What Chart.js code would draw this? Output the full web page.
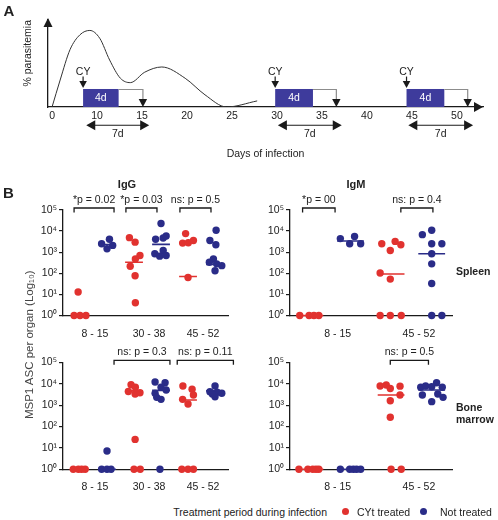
<!DOCTYPE html>
<html>
<head>
<meta charset="utf-8">
<title>CY treatment schedule and MSP1 ASC</title>
<script src="https://cdn.jsdelivr.net/npm/chart.js@4.4.1/dist/chart.umd.min.js"></script>
<style>
  html, body { margin: 0; padding: 0; background: #fff; }
  body { position: relative; width: 498px; height: 520px; overflow: hidden;
         font-family: "Liberation Sans", Arial, sans-serif; color: #222; }
  canvas { position: absolute; }
  .lbl { position: absolute; white-space: nowrap; font-size: 10.5px; line-height: 1; }
  .c { transform: translate(-50%, -50%); }
  .b { font-weight: bold; }
  .dot { position: absolute; width: 7px; height: 7px; border-radius: 50%; }
</style>
</head>
<body>
<canvas id="schedule" width="498" height="170" style="left:0;top:0"></canvas>
<canvas id="iggSpleen" width="250" height="165" style="left:0;top:185px"></canvas>
<canvas id="igmSpleen" width="258" height="165" style="left:240px;top:185px"></canvas>
<canvas id="iggMarrow" width="250" height="165" style="left:0;top:340px"></canvas>
<canvas id="igmMarrow" width="258" height="165" style="left:240px;top:340px"></canvas>

<div class="lbl c b" style="left:9px;top:10px;font-size:15px">A</div>
<div class="lbl c b" style="left:8.5px;top:192px;font-size:15px">B</div>
<div class="lbl c b" style="left:127px;top:184px;font-size:11px">IgG</div>
<div class="lbl c b" style="left:356px;top:184px;font-size:11px">IgM</div>
<div class="lbl b" style="left:456px;top:266px">Spleen</div>
<div class="lbl b" style="left:456px;top:400.5px;line-height:12.6px">Bone<br>marrow</div>
<div class="lbl" style="left:-48px;top:339px;width:156px;text-align:center;font-size:11.5px;font-weight:normal;color:#444;transform:rotate(-90deg)">MSP1 ASC per organ (Log&#8321;&#8320;)</div>
<div class="lbl" style="left:327px;top:511.5px;transform:translate(-100%,-50%)">Treatment period during infection</div>
<div class="dot" style="left:341.5px;top:508px;background:#e1322f"></div>
<div class="lbl" style="left:357px;top:511.5px;transform:translateY(-50%)">CYt treated</div>
<div class="dot" style="left:419.8px;top:508px;background:#2a2c88"></div>
<div class="lbl" style="left:440px;top:511.5px;transform:translateY(-50%)">Not treated</div>

<script>
// ---- panel A: infection schedule ----
var dayTicks = [0, 10, 15, 20, 25, 30, 35, 40, 45, 50];
var curveDays = [0, 1.8, 4, 6.2, 8.4, 10.3, 11.4, 12.6, 13.7, 15.3, 17.2, 19.8, 22, 24.4, 27.8];
var curveLevel = [0, 31, 66, 83, 88, 79, 54, 33, 28, 40, 46, 33, 14, 0, 7];
var cyDays = [6.9, 29.8, 44.4];
var boxEndDays = [12.4, 34, 48.6];
var sampleDays = [15.1, 36.6, 51.2];
var windowStart = [7.6, 30.1, 44.6];
var windowEnd = [15.8, 37.2, 51.8];

// ---- panel B: MSP1 ASC per organ ----
var periodsIgG = ['8 - 15', '30 - 38', '45 - 52'];
var periodsIgM = ['8 - 15', '45 - 52'];

var iggSpleenCy = [[13, 1, 1, 1], [4900, 3000, 700, 480, 215, 76, 4], [7600, 2700, 2800, 3600, 63]];
var iggSpleenCyX = [[-0.07, -0.22, 0, 0.22], [-0.17, 0.04, 0.22, 0.05, -0.14, 0.04, 0.05], [-0.09, -0.2, 0.01, 0.2, 0]];
var iggSpleenNt = [[2500, 4100, 1450, 2100], [23000, 4100, 4700, 5900, 1200, 850, 650, 700], [11000, 3600, 2250, 480, 335, 280, 230, 133]];
var iggSpleenNtX = [[-0.2, 0.09, 0, 0.21], [0, -0.2, 0.08, 0.19, 0.08, -0.23, -0.05, 0.19], [0.04, -0.19, 0.03, -0.06, -0.21, 0.06, 0.25, 0]];
var iggSpleenCyMed = [1, 335, 70];
var iggSpleenNtMed = [2300, 2350, 260];
var iggSpleenTests = ['*p = 0.02', '*p = 0.03', 'ns: p = 0.5'];
var iggSpleenFrom = [-0.22, 1.7, 3.7];
var iggSpleenTo = [1.26, 2.85, 4.85];

var igmSpleenCy = [[1, 1, 1, 1], [2500, 1200, 3250, 2250, 103, 53, 1, 1, 1]];
var igmSpleenCyX = [[-0.25, -0.02, 0.1, 0.22], [-0.23, -0.02, 0.1, 0.24, -0.27, -0.02, -0.27, -0.02, 0.25]];
var igmSpleenNt = [[4400, 5600, 2500, 2500], [6800, 11000, 2500, 2500, 840, 280, 33, 1, 1]];
var igmSpleenNtX = [[-0.25, 0.1, -0.02, 0.25], [-0.23, 0, 0, 0.25, 0, 0, 0, 0, 0.25]];
var igmSpleenCyMed = [1, 92];
var igmSpleenNtMed = [3400, 840];
var igmSpleenTests = ['*p = 00', 'ns: p = 0.4'];
var igmSpleenFrom = [-0.18, 2.24];
var igmSpleenTo = [0.62, 3.03];

var iggMarrowCy = [[1, 1, 1, 1], [8900, 6800, 4300, 3300, 3800, 25, 1, 1], [7800, 5500, 2950, 1860, 1120, 1, 1, 1]];
var iggMarrowCyX = [[-0.25, -0.06, 0.06, 0.19], [-0.11, 0.05, -0.21, 0.04, 0.22, 0.04, 0, 0.23], [-0.19, 0.15, 0.2, -0.2, 0, -0.23, 0, 0.2]];
var iggMarrowNt = [[7.2, 1, 1, 1], [12000, 11000, 6800, 3550, 5100, 2300, 1860, 1], [7800, 4250, 4000, 3600, 2450, 3300]];
var iggMarrowNtX = [[0, -0.2, 0, 0.15], [-0.22, 0.15, 0, -0.22, 0.19, -0.16, 0, -0.04], [0, -0.19, 0.08, 0.25, 0, -0.1]];
var iggMarrowCyMed = [1, 4600, 1740];
var iggMarrowNtMed = [1, 4900, 4600];
var iggMarrowTests = ['ns: p = 0.3', 'ns: p = 0.11'];
var iggMarrowFrom = [1.26, 3.6];
var iggMarrowTo = [3.33, 5.68];

var igmMarrowCy = [[1, 1, 1, 1, 1], [7800, 8700, 6000, 7700, 2950, 1600, 270, 1, 1]];
var igmMarrowCyX = [[-0.27, -0.05, 0.07, 0.15, 0.22], [-0.27, -0.12, -0.02, 0.22, 0.22, -0.02, -0.02, 0, 0.25]];
var igmMarrowNt = [[1, 1, 1, 1, 1], [6800, 7800, 7200, 11000, 6800, 2950, 1450, 3300, 2300]];
var igmMarrowNtX = [[-0.25, -0.02, 0.07, 0.15, 0.25], [-0.27, -0.15, 0, 0.12, 0.26, -0.23, 0, 0.15, 0.28]];
var igmMarrowCyMed = [1, 2950];
var igmMarrowNtMed = [1, 5100];
var igmMarrowTests = ['ns: p = 0.5'];
var igmMarrowFrom = [1.98];
var igmMarrowTo = [2.92];

var RED = '#e1322f';
var BLUE = '#2a2c88';
var INK = '#1a1a1a';
var FONT = '10.5px "Liberation Sans", Arial, sans-serif';
var SUP = ['\u2070', '\u00b9', '\u00b2', '\u00b3', '\u2074', '\u2075'];

Chart.defaults.font.family = '"Liberation Sans", Arial, sans-serif';
Chart.defaults.font.size = 10.5;
Chart.defaults.color = '#222';
Chart.defaults.animation = false;
Chart.defaults.events = [];
Chart.defaults.plugins.legend.display = false;
Chart.defaults.plugins.tooltip.enabled = false;

// the schematic day axis is not linear: each labelled day gets one step
function dayToIdx(d) {
	for (var i = 1; i < dayTicks.length; i++) {
		if (d <= dayTicks[i] || i == dayTicks.length - 1) {
			return i - 1 + (d - dayTicks[i - 1]) / (dayTicks[i] - dayTicks[i - 1]);
		}
	}
}

function head(ctx, x, y, dir, hw, len) {
	ctx.beginPath();
	ctx.moveTo(x, y);
	if (dir == 'up') { ctx.lineTo(x - hw, y + len); ctx.lineTo(x + hw, y + len); }
	else if (dir == 'down') { ctx.lineTo(x - hw, y - len); ctx.lineTo(x + hw, y - len); }
	else if (dir == 'left') { ctx.lineTo(x + len, y - hw); ctx.lineTo(x + len, y + hw); }
	else { ctx.lineTo(x - len, y - hw); ctx.lineTo(x - len, y + hw); }
	ctx.closePath();
	ctx.fill();
}

function seg(ctx, x0, y0, x1, y1) {
	ctx.beginPath();
	ctx.moveTo(x0, y0);
	ctx.lineTo(x1, y1);
	ctx.stroke();
}

var schedulePlugin = {
	id: 'schedule',
	afterDatasetsDraw: function(chart) {
		var ctx = chart.ctx, ca = chart.chartArea, x = chart.scales.x, y = chart.scales.y;
		var px = function(d) { return x.getPixelForValue(dayToIdx(d)); };
		var py = function(v) { return y.getPixelForValue(v); };
		var base = py(0);
		ctx.save();
		ctx.fillStyle = INK;
		head(ctx, ca.left, ca.top - 2, 'up', 4.5, 9);
		head(ctx, ca.right, base, 'right', 5, 9);
		ctx.font = FONT;
		ctx.textAlign = 'center';
		ctx.textBaseline = 'middle';
		ctx.lineWidth = 1.2;
		for (var i = 0; i < cyDays.length; i++) {
			var x0 = px(cyDays[i]), x1 = px(boxEndDays[i]), x2 = px(sampleDays[i]);
			var top = py(20.7);
			// CY injection
			ctx.fillStyle = '#222';
			ctx.fillText('CY', x0, py(40.6));
			ctx.strokeStyle = INK;
			seg(ctx, x0, py(35), x0, top - 5);
			ctx.fillStyle = INK;
			head(ctx, x0, top - 1, 'down', 3.8, 7);
			// 4 days of treatment
			ctx.fillStyle = '#3e3b9c';
			ctx.fillRect(x0, top, x1 - x0, base - top);
			ctx.fillStyle = '#fff';
			ctx.fillText('4d', (x0 + x1) / 2, (top + base) / 2 + 0.5);
			// until sampling
			ctx.strokeStyle = '#8c8c8c';
			ctx.beginPath();
			ctx.moveTo(x1, top + 0.5);
			ctx.lineTo(x2, top + 0.5);
			ctx.lineTo(x2, base - 6);
			ctx.stroke();
			ctx.fillStyle = INK;
			head(ctx, x2, base, 'down', 4.2, 8);
			// 7 day window
			var w0 = px(windowStart[i]), w1 = px(windowEnd[i]), wy = py(-21);
			ctx.strokeStyle = INK;
			seg(ctx, w0 + 6, wy, w1 - 6, wy);
			head(ctx, w0, wy, 'left', 5, 9);
			head(ctx, w1, wy, 'right', 5, 9);
			ctx.fillStyle = '#222';
			ctx.fillText('7d', (w0 + w1) / 2, py(-31.5));
		}
		ctx.restore();
	}
};

new Chart(document.getElementById('schedule'), {
	type: 'line',
	data: {
		datasets: [{
			data: curveDays.map(function(d, i) { return { x: dayToIdx(d), y: curveLevel[i] }; }),
			borderColor: '#333',
			borderWidth: 1,
			pointRadius: 0,
			cubicInterpolationMode: 'monotone',
			fill: false
		}]
	},
	options: {
		responsive: false,
		layout: { padding: { top: 20, right: 15, left: 0, bottom: 0 } },
		scales: {
			x: {
				type: 'linear', min: -0.09, max: 9.58,
				grid: { display: false, drawTicks: false },
				border: { display: true, color: INK, width: 1.3 },
				ticks: { padding: 2.5, autoSkip: false, maxRotation: 0,
					callback: function(v) { return dayTicks[Math.round(v)]; } },
				afterBuildTicks: function(s) { s.ticks = dayTicks.map(function(d, i) { return { value: i }; }); },
				afterFit: function(s) { s.height = 63; },
				title: { display: true, text: 'Days of infection', padding: { top: 0, bottom: 9.4 } }
			},
			y: {
				min: 0, max: 100,
				grid: { display: false, drawTicks: false },
				border: { display: true, color: INK, width: 1.3 },
				ticks: { display: false },
				afterFit: function(s) { s.width = 48; },
				title: { display: true, text: '% parasitemia', align: 'end', padding: { top: 22, bottom: 0 } }
			}
		}
	},
	plugins: [schedulePlugin]
});

// ---- scatter panels ----
function buildPoints(vals, offs, side) {
	var pts = [];
	vals.forEach(function(grp, g) {
		grp.forEach(function(v, i) { pts.push({ x: 2 * g + side + offs[g][i], y: v }); });
	});
	return pts;
}

function buildMedians(meds, side) {
	var pts = [];
	meds.forEach(function(m, g) {
		var c = 2 * g + side;
		pts.push({ x: c - 0.33, y: m }, { x: c + 0.33, y: m }, { x: c + 0.5, y: null });
	});
	return pts;
}

function bracketPlugin(texts, from, to) {
	return {
		id: 'brackets',
		afterDraw: function(chart) {
			var ctx = chart.ctx, x = chart.scales.x;
			var top = chart.chartArea.top - 2;
			ctx.save();
			ctx.strokeStyle = INK;
			ctx.lineWidth = 1.3;
			ctx.fillStyle = '#222';
			ctx.font = FONT;
			ctx.textAlign = 'center';
			ctx.textBaseline = 'alphabetic';
			texts.forEach(function(t, i) {
				var a = x.getPixelForValue(from[i]), b = x.getPixelForValue(to[i]);
				ctx.beginPath();
				ctx.moveTo(a, top + 4.5);
				ctx.lineTo(a, top);
				ctx.lineTo(b, top);
				ctx.lineTo(b, top + 4.5);
				ctx.stroke();
				ctx.fillText(t, (a + b) / 2, top - 5);
			});
			ctx.restore();
		}
	};
}

function scatterPanel(id, periods, cy, cyX, nt, ntX, cyMed, ntMed, tests, from, to, box) {
	var lineSet = function(data, color) {
		return { type: 'line', data: data, showLine: true, spanGaps: false, borderColor: color,
			borderWidth: 1.6, pointRadius: 0, clip: false };
	};
	var dotSet = function(label, data, color) {
		return { label: label, data: data, backgroundColor: color, pointRadius: 3.7,
			pointBorderWidth: 0, pointStyle: 'circle', clip: false };
	};
	new Chart(document.getElementById(id), {
		type: 'scatter',
		data: {
			datasets: [
				lineSet(buildMedians(cyMed, 0), RED),
				lineSet(buildMedians(ntMed, 1), BLUE),
				dotSet('CYt treated', buildPoints(cy, cyX, 0), RED),
				dotSet('Not treated', buildPoints(nt, ntX, 1), BLUE)
			]
		},
		options: {
			responsive: false,
			layout: { padding: { top: box.top, right: box.right, left: 0, bottom: 0 } },
			scales: {
				x: {
					type: 'linear', min: box.xMin, max: box.xMax,
					grid: { display: false, drawTicks: false },
					border: { display: true, color: INK, width: 1.3 },
					ticks: { padding: box.labelPad, labelOffset: box.shift, autoSkip: false, maxRotation: 0,
						callback: function(v) { return periods[Math.round((v - 0.5) / 2)]; } },
					afterBuildTicks: function(s) { s.ticks = periods.map(function(p, g) { return { value: 2 * g + 0.5 }; }); },
					afterFit: function(s) { s.height = box.axisH; }
				},
				y: {
					type: 'logarithmic', min: 1, max: 100000,
					grid: { drawOnChartArea: false, tickLength: 4, color: INK, lineWidth: 1.2 },
					border: { display: true, color: INK, width: 1.3 },
					ticks: { padding: 2, callback: function(v) { return '10' + SUP[Math.round(Math.log10(v))]; } },
					afterBuildTicks: function(s) { s.ticks = [0, 1, 2, 3, 4, 5].map(function(e) { return { value: Math.pow(10, e) }; }); },
					afterFit: function(s) { s.width = box.axisW; }
				}
			}
		},
		plugins: [bracketPlugin(tests, from, to)]
	});
}

scatterPanel('iggSpleen', periodsIgG, iggSpleenCy, iggSpleenCyX, iggSpleenNt, iggSpleenNtX,
	iggSpleenCyMed, iggSpleenNtMed, iggSpleenTests, iggSpleenFrom, iggSpleenTo,
	{ top: 25, right: 22, axisW: 63, axisH: 34.5, xMin: -0.63, xMax: 5.48, labelPad: 12, shift: 1.5 });
scatterPanel('igmSpleen', periodsIgM, igmSpleenCy, igmSpleenCyX, igmSpleenNt, igmSpleenNtX,
	igmSpleenCyMed, igmSpleenNtMed, igmSpleenTests, igmSpleenFrom, igmSpleenTo,
	{ top: 25, right: 46, axisW: 50, axisH: 34.5, xMin: -0.49, xMax: 3.5, labelPad: 12, shift: 7.5 });
scatterPanel('iggMarrow', periodsIgG, iggMarrowCy, iggMarrowCyX, iggMarrowNt, iggMarrowNtX,
	iggMarrowCyMed, iggMarrowNtMed, iggMarrowTests, iggMarrowFrom, iggMarrowTo,
	{ top: 22.3, right: 22, axisW: 63, axisH: 35.7, xMin: -0.63, xMax: 5.48, labelPad: 11.4, shift: 1.5 });
scatterPanel('igmMarrow', periodsIgM, igmMarrowCy, igmMarrowCyX, igmMarrowNt, igmMarrowNtX,
	igmMarrowCyMed, igmMarrowNtMed, igmMarrowTests, igmMarrowFrom, igmMarrowTo,
	{ top: 22.3, right: 46, axisW: 50, axisH: 35.7, xMin: -0.49, xMax: 3.5, labelPad: 11.4, shift: 7.5 });
</script>
</body>
</html>
